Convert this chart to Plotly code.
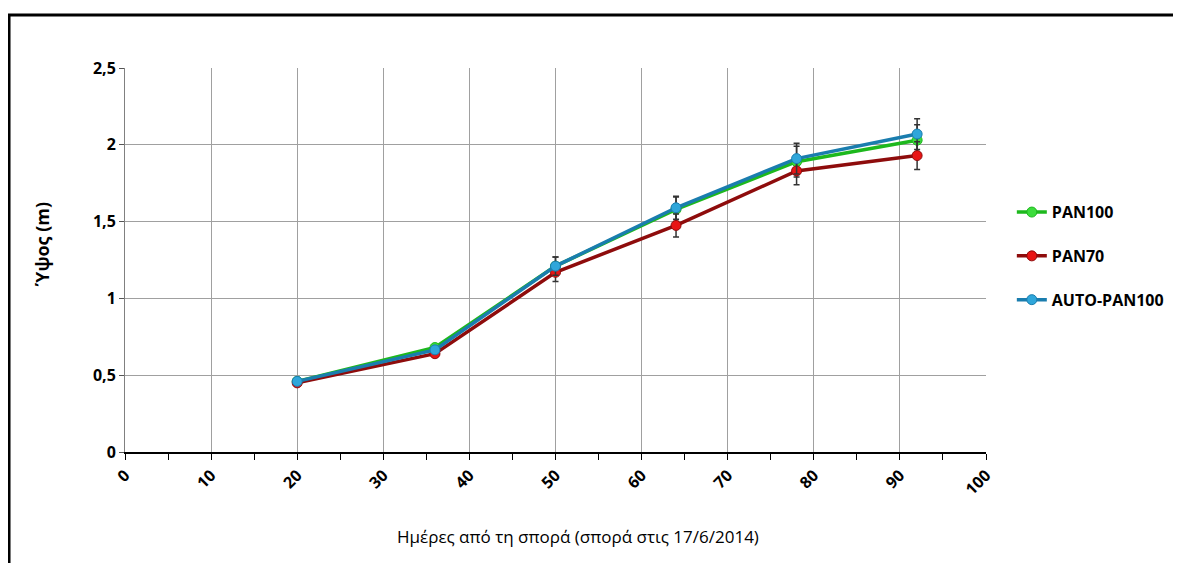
import plotly.graph_objects as go

# days after sowing
days = [20, 36, 50, 64, 78, 92]

# plant height (m)
pan100 = [0.46, 0.68, 1.21, 1.58, 1.89, 2.03]
pan70 = [0.45, 0.64, 1.17, 1.475, 1.83, 1.93]
auto_pan100 = [0.46, 0.665, 1.21, 1.59, 1.91, 2.07]

# standard errors
err_pan100 = [0.01, 0.02, 0.06, 0.08, 0.10, 0.10]
err_pan70 = [0.01, 0.02, 0.06, 0.075, 0.09, 0.09]
err_auto = [0.01, 0.02, 0.06, 0.075, 0.10, 0.10]

x_ticks = [0, 10, 20, 30, 40, 50, 60, 70, 80, 90, 100]
y_ticks = [0, 0.5, 1, 1.5, 2, 2.5]

FONT = "Open Sans"

series = [
    ("PAN100", pan100, err_pan100, "#1DB81D", "#3CDC3C"),
    ("PAN70", pan70, err_pan70, "#8E0C0C", "#E81414"),
    ("AUTO-PAN100", auto_pan100, err_auto, "#1A7DAE", "#2FA6DA"),
]

fig = go.Figure()
for name, vals, errs, lcol, mcol in series:
    fig.add_trace(go.Scatter(
        x=days, y=vals, name=name, legendgroup=name,
        mode="lines+markers",
        line=dict(color=lcol, width=3.5),
        marker=dict(color=mcol, size=10, line=dict(color=lcol, width=1)),
        error_y=dict(type="data", array=errs, visible=True,
                     color="#333333", thickness=1.5, width=3),
    ))

# the page body adds an 8px offset, margins account for it
fig.update_layout(
    width=1181, height=563,
    margin=dict(l=117, r=203, t=60, b=119),
    paper_bgcolor="white", plot_bgcolor="white",
    separators=",.",
    font=dict(family=FONT, color="black"),
    legend=dict(x=1.03, xanchor="left", y=0.51, yanchor="middle",
                font=dict(family=FONT, size=16, color="black", weight="bold"),
                tracegroupgap=20, traceorder="grouped",
                itemwidth=30, bgcolor="rgba(0,0,0,0)"),
    showlegend=True,
)

fig.update_xaxes(
    range=[0, 100], tickvals=x_ticks, tickangle=-45,
    tickfont=dict(family=FONT, size=16, color="black", weight="bold"),
    showgrid=True, gridcolor="#a0a0a0", gridwidth=1,
    showline=True, linecolor="black", linewidth=1.5,
    ticks="outside", ticklen=6, tickcolor="black",
    minor=dict(dtick=5, ticks="outside", ticklen=6, tickcolor="black", showgrid=False),
    zeroline=False,
)
fig.update_yaxes(
    range=[0, 2.5], tickvals=y_ticks,
    tickfont=dict(family=FONT, size=16, color="black", weight="bold"),
    showgrid=True, gridcolor="#a0a0a0", gridwidth=1,
    showline=True, linecolor="#808080", linewidth=1,
    ticks="outside", ticklen=5, tickcolor="#555555",
    zeroline=False,
)

# axis titles
fig.add_annotation(
    text="Ημέρες από τη σπορά (σπορά στις 17/6/2014)",
    xref="paper", yref="paper", x=0.526, y=-0.221, yanchor="middle",
    showarrow=False, font=dict(family=FONT, size=17, color="black"),
)
fig.add_annotation(
    text="Ύψος (m)", textangle=-90,
    xref="paper", yref="paper", x=-0.096, y=0.542,
    xanchor="center", yanchor="middle",
    showarrow=False, font=dict(family=FONT, size=18, color="black", weight="bold"),
)

# outer frame, bottom and right edges fall outside the picture
fig.add_shape(
    type="rect", xref="paper", yref="paper",
    x0=-0.1347, x1=1.3, y0=-0.4, y1=1.138,
    line=dict(color="black", width=3), layer="above",
)

fig.write_html("out.html")
